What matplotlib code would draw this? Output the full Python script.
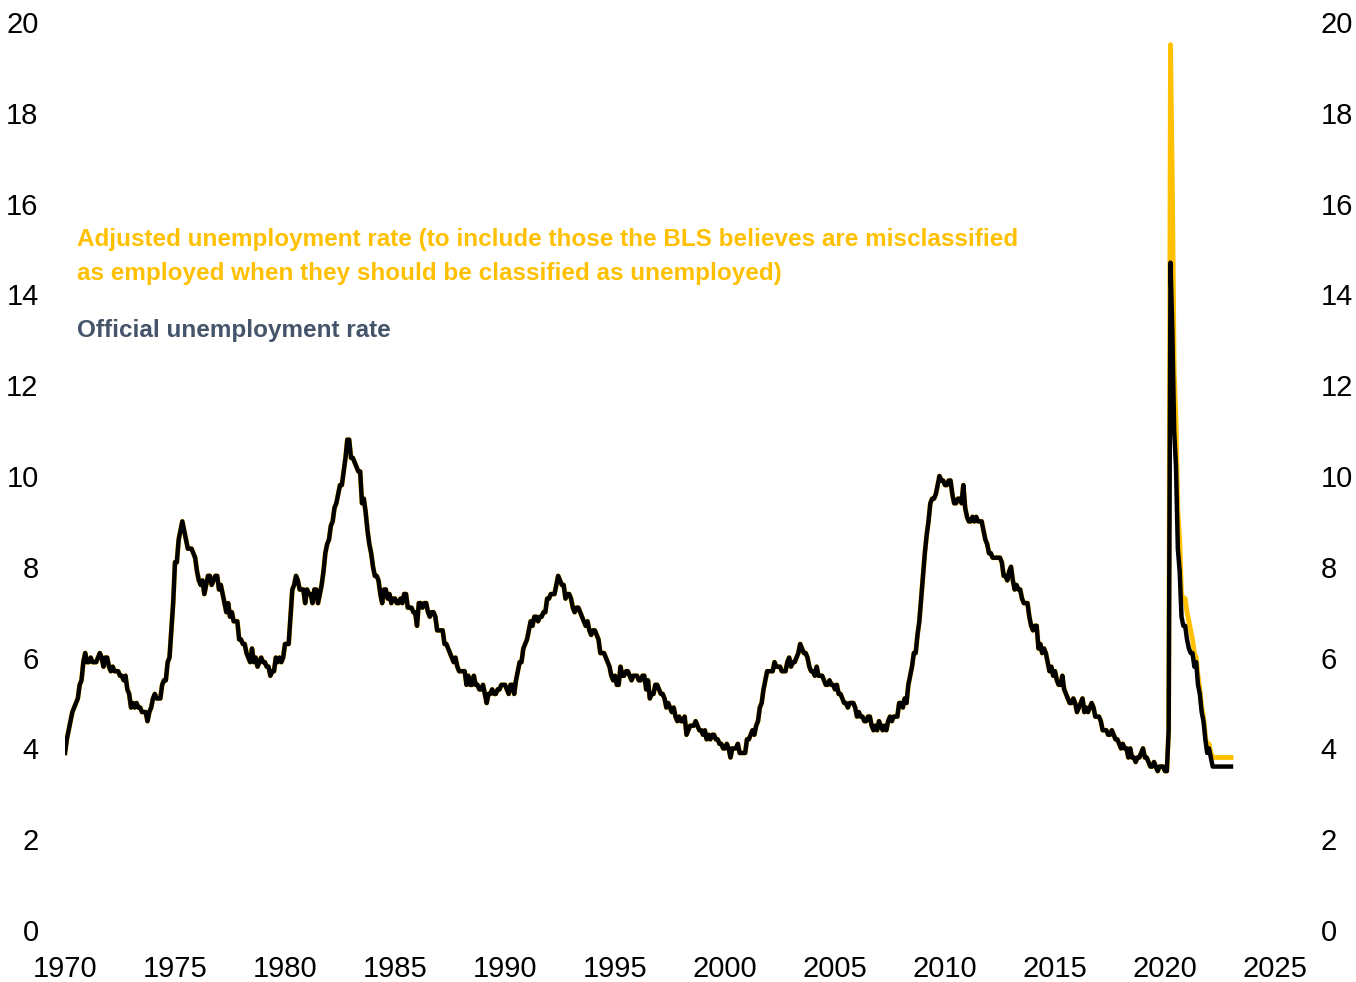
import matplotlib
matplotlib.use("Agg")
import matplotlib.pyplot as plt
import numpy as np

plt.rcParams["font.family"] = ["Liberation Sans", "DejaVu Sans"]

START_YEAR = 1970

# official unemployment rate, monthly, Jan 1970 onward
official = [
    3.9, 4.2, 4.4, 4.6, 4.8, 4.9, 5.0, 5.1, 5.4, 5.5, 5.9, 6.1,   # 1970
    5.9, 5.9, 6.0, 5.9, 5.9, 5.9, 6.0, 6.1, 6.0, 5.8, 6.0, 6.0,   # 1971
    5.8, 5.7, 5.8, 5.7, 5.7, 5.7, 5.6, 5.6, 5.5, 5.6, 5.3, 5.2,   # 1972
    4.9, 5.0, 4.9, 5.0, 4.9, 4.9, 4.8, 4.8, 4.8, 4.6, 4.8, 4.9,   # 1973
    5.1, 5.2, 5.1, 5.1, 5.1, 5.4, 5.5, 5.5, 5.9, 6.0, 6.6, 7.2,   # 1974
    8.1, 8.1, 8.6, 8.8, 9.0, 8.8, 8.6, 8.4, 8.4, 8.4, 8.3, 8.2,   # 1975
    7.9, 7.7, 7.6, 7.7, 7.4, 7.6, 7.8, 7.8, 7.6, 7.7, 7.8, 7.8,   # 1976
    7.5, 7.6, 7.4, 7.2, 7.0, 7.2, 6.9, 7.0, 6.8, 6.8, 6.8, 6.4,   # 1977
    6.4, 6.3, 6.3, 6.1, 6.0, 5.9, 6.2, 5.9, 6.0, 5.8, 5.9, 6.0,   # 1978
    5.9, 5.9, 5.8, 5.8, 5.6, 5.7, 5.7, 6.0, 5.9, 6.0, 5.9, 6.0,   # 1979
    6.3, 6.3, 6.3, 6.9, 7.5, 7.6, 7.8, 7.7, 7.5, 7.5, 7.5, 7.2,   # 1980
    7.5, 7.4, 7.4, 7.2, 7.5, 7.5, 7.2, 7.4, 7.6, 7.9, 8.3, 8.5,   # 1981
    8.6, 8.9, 9.0, 9.3, 9.4, 9.6, 9.8, 9.8, 10.1, 10.4, 10.8, 10.8,  # 1982
    10.4, 10.4, 10.3, 10.2, 10.1, 10.1, 9.4, 9.5, 9.2, 8.8, 8.5, 8.3,  # 1983
    8.0, 7.8, 7.8, 7.7, 7.4, 7.2, 7.5, 7.5, 7.3, 7.4, 7.2, 7.3,   # 1984
    7.3, 7.2, 7.2, 7.3, 7.2, 7.4, 7.4, 7.1, 7.1, 7.1, 7.0, 7.0,   # 1985
    6.7, 7.2, 7.2, 7.1, 7.2, 7.2, 7.0, 6.9, 7.0, 7.0, 6.9, 6.6,   # 1986
    6.6, 6.6, 6.6, 6.3, 6.3, 6.2, 6.1, 6.0, 5.9, 6.0, 5.8, 5.7,   # 1987
    5.7, 5.7, 5.7, 5.4, 5.6, 5.4, 5.4, 5.6, 5.4, 5.4, 5.3, 5.3,   # 1988
    5.4, 5.2, 5.0, 5.2, 5.2, 5.3, 5.2, 5.2, 5.3, 5.3, 5.4, 5.4,   # 1989
    5.4, 5.3, 5.2, 5.4, 5.4, 5.2, 5.5, 5.7, 5.9, 5.9, 6.2, 6.3,   # 1990
    6.4, 6.6, 6.8, 6.7, 6.9, 6.9, 6.8, 6.9, 6.9, 7.0, 7.0, 7.3,   # 1991
    7.3, 7.4, 7.4, 7.4, 7.6, 7.8, 7.7, 7.6, 7.6, 7.3, 7.4, 7.4,   # 1992
    7.3, 7.1, 7.0, 7.1, 7.1, 7.0, 6.9, 6.8, 6.7, 6.8, 6.6, 6.5,   # 1993
    6.6, 6.6, 6.5, 6.4, 6.1, 6.1, 6.1, 6.0, 5.9, 5.8, 5.6, 5.5,   # 1994
    5.6, 5.4, 5.4, 5.8, 5.6, 5.6, 5.7, 5.7, 5.6, 5.5, 5.6, 5.6,   # 1995
    5.6, 5.5, 5.5, 5.6, 5.6, 5.3, 5.5, 5.1, 5.2, 5.2, 5.4, 5.4,   # 1996
    5.3, 5.2, 5.2, 5.1, 4.9, 5.0, 4.9, 4.8, 4.9, 4.7, 4.6, 4.7,   # 1997
    4.6, 4.6, 4.7, 4.3, 4.4, 4.5, 4.5, 4.5, 4.6, 4.5, 4.4, 4.4,   # 1998
    4.3, 4.4, 4.2, 4.3, 4.2, 4.3, 4.3, 4.2, 4.2, 4.1, 4.1, 4.0,   # 1999
    4.0, 4.1, 4.0, 3.8, 4.0, 4.0, 4.0, 4.1, 3.9, 3.9, 3.9, 3.9,   # 2000
    4.2, 4.2, 4.3, 4.4, 4.3, 4.5, 4.6, 4.9, 5.0, 5.3, 5.5, 5.7,   # 2001
    5.7, 5.7, 5.7, 5.9, 5.8, 5.8, 5.8, 5.7, 5.7, 5.7, 5.9, 6.0,   # 2002
    5.8, 5.9, 5.9, 6.0, 6.1, 6.3, 6.2, 6.1, 6.1, 6.0, 5.8, 5.7,   # 2003
    5.7, 5.6, 5.8, 5.6, 5.6, 5.6, 5.5, 5.4, 5.4, 5.5, 5.4, 5.4,   # 2004
    5.3, 5.4, 5.2, 5.2, 5.1, 5.0, 5.0, 4.9, 5.0, 5.0, 5.0, 4.9,   # 2005
    4.7, 4.8, 4.7, 4.7, 4.6, 4.6, 4.7, 4.7, 4.5, 4.4, 4.5, 4.4,   # 2006
    4.6, 4.5, 4.4, 4.5, 4.4, 4.6, 4.7, 4.6, 4.7, 4.7, 4.7, 5.0,   # 2007
    5.0, 4.9, 5.1, 5.0, 5.4, 5.6, 5.8, 6.1, 6.1, 6.5, 6.8, 7.3,   # 2008
    7.8, 8.3, 8.7, 9.0, 9.4, 9.5, 9.5, 9.6, 9.8, 10.0, 9.9, 9.9,  # 2009
    9.8, 9.8, 9.9, 9.9, 9.6, 9.4, 9.4, 9.5, 9.5, 9.4, 9.8, 9.3,   # 2010
    9.1, 9.0, 9.0, 9.1, 9.0, 9.1, 9.0, 9.0, 9.0, 8.8, 8.6, 8.5,   # 2011
    8.3, 8.3, 8.2, 8.2, 8.2, 8.2, 8.2, 8.1, 7.8, 7.8, 7.7, 7.9,   # 2012
    8.0, 7.7, 7.5, 7.6, 7.5, 7.5, 7.3, 7.2, 7.2, 7.2, 6.9, 6.7,   # 2013
    6.6, 6.7, 6.7, 6.2, 6.3, 6.1, 6.2, 6.1, 5.9, 5.7, 5.8, 5.6,   # 2014
    5.7, 5.5, 5.4, 5.4, 5.6, 5.3, 5.2, 5.1, 5.0, 5.0, 5.1, 5.0,   # 2015
    4.8, 4.9, 5.0, 5.1, 4.8, 4.9, 4.8, 4.9, 5.0, 4.9, 4.7, 4.7,   # 2016
    4.7, 4.6, 4.4, 4.4, 4.4, 4.3, 4.3, 4.4, 4.3, 4.2, 4.2, 4.1,   # 2017
    4.0, 4.1, 4.0, 4.0, 3.8, 4.0, 3.8, 3.8, 3.7, 3.8, 3.8, 3.9,   # 2018
    4.0, 3.8, 3.8, 3.7, 3.6, 3.6, 3.7, 3.6, 3.5, 3.6, 3.6, 3.6,   # 2019
    3.5, 3.5, 4.4, 14.7, 13.2, 11.0, 10.2, 8.4, 7.9, 6.9, 6.7, 6.7,  # 2020
    6.4, 6.2, 6.1, 6.1, 5.8, 5.9, 5.4, 5.2, 4.8, 4.6, 4.2, 3.9,   # 2021
    4.0, 3.8, 3.6, 3.6, 3.6, 3.6, 3.6, 3.6, 3.6, 3.6, 3.6, 3.6,   # 2022
    3.6,                                                          # 2023
]

# adjusted rate: same history, differs from the pandemic onward
adjusted_2020_on = [
    3.5, 3.5, 4.4, 19.5, 16.4, 12.3, 11.2, 9.2, 8.6, 7.4, 7.3, 7.3,  # 2020
    7.0, 6.8, 6.6, 6.4, 6.1, 6.0, 5.6, 5.3, 4.9, 4.7, 4.3, 4.0,   # 2021
    4.1, 3.9, 3.8, 3.8, 3.8, 3.8, 3.8, 3.8, 3.8, 3.8, 3.8, 3.8,   # 2022
    3.8,                                                          # 2023
]

n_before = (2020 - START_YEAR) * 12
adjusted = official[:n_before] + adjusted_2020_on
dates = START_YEAR + np.arange(len(official)) / 12.0

adj_line1 = "Adjusted unemployment rate (to include those the BLS believes are misclassified"
adj_line2 = "as employed when they should be classified as unemployed)"
off_label = "Official unemployment rate"

YELLOW = "#FFC000"
SLATE = "#44546A"

fig = plt.figure(figsize=(13.56, 9.82), dpi=100)
ax = fig.add_axes([65 / 1356, 1 - 930 / 982, (1275 - 65) / 1356, (930 - 22) / 982])

ax.plot(dates, adjusted, color=YELLOW, lw=3.5, solid_joinstyle="round")
ax.plot(dates, official, color="black", lw=3.2, solid_joinstyle="round")

ax.set_xlim(1970, 2025)
ax.set_ylim(0, 20)
ax.set_xticks(range(1970, 2026, 5))
ax.set_yticks(range(0, 21, 2))
for s in ax.spines.values():
    s.set_visible(False)
ax.tick_params(axis="both", length=0, labelsize=21)
ax.tick_params(axis="x", pad=18)
ax.tick_params(axis="y", pad=19)

# right-hand labels sit further from the plot
ax2 = ax.twinx()
ax2.set_ylim(0, 20)
ax2.set_yticks(range(0, 21, 2))
for s in ax2.spines.values():
    s.set_visible(False)
ax2.tick_params(axis="y", length=0, labelsize=21, pad=33)

for txt, y, col in [(adj_line1, 246, YELLOW), (adj_line2, 280, YELLOW), (off_label, 337, SLATE)]:
    ax.text(0.0097, (930 - y) / 908, txt, transform=ax.transAxes, color=col,
            fontsize=17.5, fontweight="bold", va="baseline", ha="left")

fig.savefig("out.png", dpi=100)
